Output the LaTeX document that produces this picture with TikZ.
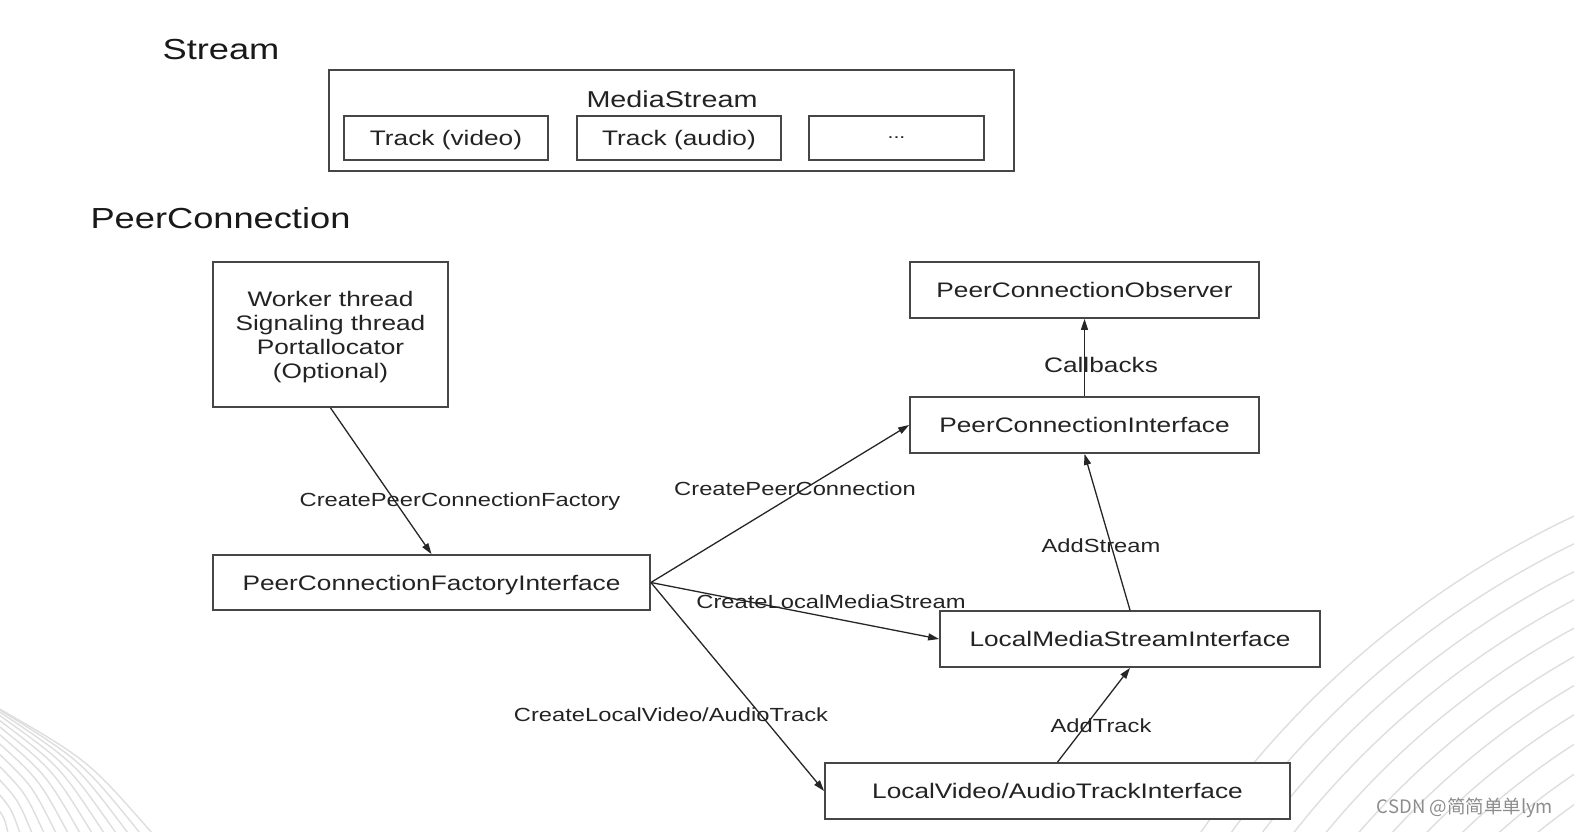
\documentclass[tikz,border=0pt]{standalone}
\usepackage{fontspec}
\setmainfont{Liberation Sans}[FakeStretch=1.25]
\newfontfamily\cjkfont{Noto Sans CJK SC}
\usetikzlibrary{arrows.meta}

\definecolor{boxline}{RGB}{70,70,70}
\definecolor{arcgray}{RGB}{222,222,222}
\definecolor{wmgray}{RGB}{140,140,140}
\definecolor{inktext}{RGB}{35,35,35}

\begin{document}
\begin{tikzpicture}[x=1pt,y=-1pt,
  box/.style={draw=boxline, line width=1.8pt, fill=white, inner sep=0pt, text depth=0pt,
    text=inktext, font=\fontsize{21}{24}\selectfont},
  lbl/.style={inner sep=0pt, text depth=0pt, yshift=-3pt, text=inktext, font=\fontsize{19}{23}\selectfont},
  hdr/.style={inner sep=0pt, text depth=0pt, yshift=-2pt, text=black!90, font=\fontsize{29}{34}\selectfont},
  arr/.style={-{Triangle[length=11pt,width=7pt]}, line width=1.3pt, black!85}]
\useasboundingbox (0,0) rectangle (1574,832);

%Background arcs
\begin{scope}
\clip (0,0) rectangle (1574,832);
\foreach \r in {940,915,...,590}
  \draw[arcgray, line width=1.4pt] (1974,1367) circle[radius=\r];
\foreach \k in {0,...,13}
  \draw[arcgray, line width=1.4pt] (-2,{708+0.7*\k*\k})
    .. controls ({(152-12*\k)*0.58},{708+0.7*\k*\k+(124-0.7*\k*\k)*0.42}) .. ({152-12*\k},833);
\end{scope}

% Headings
\node[hdr] (hstream) at (221,47) {Stream};
\node[hdr] (hpc) at (220.5,216) {PeerConnection};

%Shape: MediaStream with its tracks
\node[box, minimum width=685pt, minimum height=101pt] (ms) at (671.5,120.5) {};
\node[lbl, font=\fontsize{23}{27}\selectfont] (mstitle) at (672,96) {MediaStream};
\node[box, minimum width=204pt, minimum height=44pt] (tvideo) at (446,138) {Track (video)};
\node[box, minimum width=204pt, minimum height=44pt] (taudio) at (679,138) {Track (audio)};
\node[box, minimum width=175pt, minimum height=44pt, font=\fontsize{17}{20}\selectfont] (tmore) at (896.5,138) {...};

%Shape: PeerConnection boxes
\node[box, minimum width=235pt, minimum height=145pt, align=center] (wrk) at (330.5,334.5)
  {Worker thread\\Signaling thread\\Portallocator\\(Optional)};
\node[box, minimum width=437pt, minimum height=55pt] (pcfi) at (431.5,582.5) {PeerConnectionFactoryInterface};
\node[box, minimum width=349pt, minimum height=56pt] (pco) at (1084.5,290) {PeerConnectionObserver};
\node[box, minimum width=349pt, minimum height=56pt] (pci) at (1084.5,425) {PeerConnectionInterface};
\node[box, minimum width=380pt, minimum height=56pt] (lmsi) at (1130,639) {LocalMediaStreamInterface};
\node[box, minimum width=465pt, minimum height=56pt] (lvati) at (1057.5,791) {LocalVideo/AudioTrackInterface};

%Straight Lines
\draw[arr] (wrk.south) -- (pcfi.north);
\draw[arr] (pcfi.east) -- (pci.west);
\draw[arr] (pcfi.east) -- (lmsi.west);
\draw[arr] (pcfi.east) -- (lvati.west);
\draw[arr] (pci.north) -- (pco.south);
\draw[arr] (lmsi.north) -- (pci.south);
\draw[arr] (lvati.north) -- (lmsi.south);

% Text Node
\node[lbl] (lfactory) at (460,497) {CreatePeerConnectionFactory};
\node[lbl] (lpc) at (795,486) {CreatePeerConnection};
\node[lbl] (lstream) at (831,599) {CreateLocalMediaStream};
\node[lbl] (ltrack) at (671,712) {CreateLocalVideo/AudioTrack};
\node[lbl, font=\fontsize{21}{24}\selectfont] (lcb) at (1101,362) {Callbacks};
\node[lbl] (laddstream) at (1101,543) {AddStream};
\node[lbl] (laddtrack) at (1101,723) {AddTrack};

% Watermark
\node[inner sep=0pt, text=wmgray, font=\cjkfont\fontsize{18.5}{22}\selectfont] (wmark) at (1465,808) {CSDN @简简单单lym};
\end{tikzpicture}
\end{document}
